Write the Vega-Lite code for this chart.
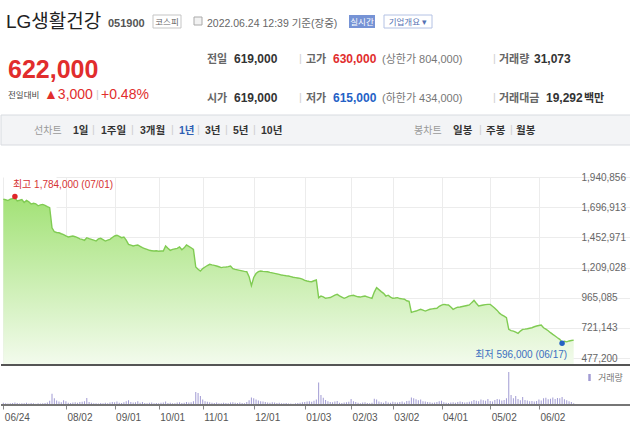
{
"$schema":"https://vega.github.io/schema/vega-lite/v6.json",
"padding":0,
"background":"white",
"bounds":"flush",
"spacing":0,
"resolve":{"scale":{"color":"independent"},"legend":{"color":"independent"}},
"config":{
 "font":"Liberation Sans, Noto Sans CJK KR, sans-serif",
 "view":{"stroke":null},
 "axis":{"labelOverlap":false},
 "axisY":{"labelOverlap":false},
 "axisQuantitative":{"labelOverlap":false},
 "text":{"align":"left","baseline":"alphabetic"}
},
"datasets":{
"px":[
{"d":"2021-06-24","c":1762000,"v":18000},{"d":"2021-06-25","c":1757000,"v":15000},{"d":"2021-06-28","c":1750000,"v":12000},{"d":"2021-06-29","c":1761000,"v":14000},{"d":"2021-06-30","c":1766000,"v":16000},
{"d":"2021-07-01","c":1770000,"v":20000},{"d":"2021-07-02","c":1748000,"v":17000},{"d":"2021-07-05","c":1753000,"v":13000},{"d":"2021-07-06","c":1759000,"v":15000},{"d":"2021-07-07","c":1735000,"v":14000},
{"d":"2021-07-08","c":1751000,"v":18000},{"d":"2021-07-09","c":1740000,"v":12000},{"d":"2021-07-12","c":1722000,"v":16000},{"d":"2021-07-13","c":1728000,"v":14000},{"d":"2021-07-14","c":1724000,"v":11000},
{"d":"2021-07-15","c":1708000,"v":15000},{"d":"2021-07-16","c":1715000,"v":13000},{"d":"2021-07-19","c":1719000,"v":14000},{"d":"2021-07-20","c":1712000,"v":16000},{"d":"2021-07-21","c":1701000,"v":21000},
{"d":"2021-07-22","c":1693000,"v":35000},{"d":"2021-07-23","c":1530000,"v":92000},{"d":"2021-07-26","c":1498000,"v":55000},{"d":"2021-07-27","c":1492000,"v":38000},{"d":"2021-07-28","c":1490000,"v":28000},
{"d":"2021-07-29","c":1482000,"v":22000},{"d":"2021-07-30","c":1475000,"v":40000},{"d":"2021-08-02","c":1464000,"v":30000},{"d":"2021-08-03","c":1456000,"v":18000},{"d":"2021-08-04","c":1460000,"v":16000},
{"d":"2021-08-05","c":1464000,"v":20000},{"d":"2021-08-06","c":1458000,"v":22000},{"d":"2021-08-09","c":1450000,"v":18000},{"d":"2021-08-10","c":1440000,"v":24000},{"d":"2021-08-11","c":1437000,"v":26000},
{"d":"2021-08-12","c":1429000,"v":30000},{"d":"2021-08-13","c":1450000,"v":58000},{"d":"2021-08-17","c":1443000,"v":25000},{"d":"2021-08-18","c":1437000,"v":18000},{"d":"2021-08-19","c":1430000,"v":15000},
{"d":"2021-08-20","c":1423000,"v":14000},{"d":"2021-08-23","c":1440000,"v":12000},{"d":"2021-08-24","c":1445000,"v":16000},{"d":"2021-08-25","c":1434000,"v":15000},{"d":"2021-08-26","c":1423000,"v":18000},
{"d":"2021-08-27","c":1430000,"v":14000},{"d":"2021-08-30","c":1437000,"v":20000},{"d":"2021-08-31","c":1452000,"v":24000},{"d":"2021-09-01","c":1464000,"v":22000},{"d":"2021-09-02","c":1470000,"v":28000},
{"d":"2021-09-03","c":1461000,"v":18000},{"d":"2021-09-06","c":1450000,"v":16000},{"d":"2021-09-07","c":1456000,"v":22000},{"d":"2021-09-08","c":1430000,"v":30000},{"d":"2021-09-09","c":1396000,"v":40000},
{"d":"2021-09-10","c":1390000,"v":25000},{"d":"2021-09-13","c":1383000,"v":20000},{"d":"2021-09-14","c":1388000,"v":22000},{"d":"2021-09-15","c":1391000,"v":30000},{"d":"2021-09-16","c":1380000,"v":18000},
{"d":"2021-09-17","c":1369000,"v":25000},{"d":"2021-09-23","c":1362000,"v":16000},{"d":"2021-09-24","c":1355000,"v":14000},{"d":"2021-09-27","c":1348000,"v":18000},{"d":"2021-09-28","c":1345000,"v":20000},
{"d":"2021-09-29","c":1342000,"v":15000},{"d":"2021-09-30","c":1344000,"v":16000},{"d":"2021-10-01","c":1340000,"v":14000},{"d":"2021-10-05","c":1342000,"v":18000},{"d":"2021-10-06","c":1342000,"v":20000},
{"d":"2021-10-07","c":1383000,"v":28000},{"d":"2021-10-08","c":1365000,"v":16000},{"d":"2021-10-12","c":1348000,"v":18000},{"d":"2021-10-13","c":1356000,"v":14000},{"d":"2021-10-14","c":1360000,"v":15000},
{"d":"2021-10-15","c":1364000,"v":20000},{"d":"2021-10-18","c":1375000,"v":22000},{"d":"2021-10-19","c":1353000,"v":16000},{"d":"2021-10-20","c":1368000,"v":18000},{"d":"2021-10-21","c":1391000,"v":25000},
{"d":"2021-10-22","c":1380000,"v":20000},{"d":"2021-10-25","c":1369000,"v":22000},{"d":"2021-10-26","c":1356000,"v":30000},{"d":"2021-10-27","c":1213000,"v":108000},{"d":"2021-10-28","c":1195000,"v":98000},
{"d":"2021-10-29","c":1181000,"v":75000},{"d":"2021-11-01","c":1200000,"v":45000},{"d":"2021-11-02","c":1213000,"v":30000},{"d":"2021-11-03","c":1225000,"v":26000},{"d":"2021-11-04","c":1235000,"v":22000},
{"d":"2021-11-05","c":1230000,"v":18000},{"d":"2021-11-08","c":1226000,"v":16000},{"d":"2021-11-09","c":1221000,"v":20000},{"d":"2021-11-10","c":1215000,"v":15000},{"d":"2021-11-11","c":1208000,"v":14000},
{"d":"2021-11-12","c":1212000,"v":18000},{"d":"2021-11-15","c":1213000,"v":16000},{"d":"2021-11-16","c":1216000,"v":15000},{"d":"2021-11-17","c":1221000,"v":20000},{"d":"2021-11-18","c":1200000,"v":22000},
{"d":"2021-11-19","c":1194000,"v":18000},{"d":"2021-11-22","c":1190000,"v":16000},{"d":"2021-11-23","c":1186000,"v":20000},{"d":"2021-11-24","c":1182000,"v":17000},{"d":"2021-11-25","c":1178000,"v":15000},
{"d":"2021-11-26","c":1175000,"v":24000},{"d":"2021-11-29","c":1135000,"v":40000},{"d":"2021-11-30","c":1062000,"v":62000},{"d":"2021-12-01","c":1128000,"v":55000},{"d":"2021-12-02","c":1160000,"v":45000},
{"d":"2021-12-03","c":1175000,"v":38000},{"d":"2021-12-06","c":1181000,"v":30000},{"d":"2021-12-07","c":1178000,"v":28000},{"d":"2021-12-08","c":1176000,"v":25000},{"d":"2021-12-09","c":1175000,"v":20000},
{"d":"2021-12-10","c":1170000,"v":18000},{"d":"2021-12-13","c":1166000,"v":22000},{"d":"2021-12-14","c":1162000,"v":20000},{"d":"2021-12-15","c":1158000,"v":16000},{"d":"2021-12-16","c":1154000,"v":18000},
{"d":"2021-12-17","c":1148000,"v":15000},{"d":"2021-12-20","c":1145000,"v":14000},{"d":"2021-12-21","c":1142000,"v":16000},{"d":"2021-12-22","c":1140000,"v":13000},{"d":"2021-12-23","c":1135000,"v":12000},
{"d":"2021-12-24","c":1130000,"v":10000},{"d":"2021-12-27","c":1127000,"v":14000},{"d":"2021-12-28","c":1124000,"v":16000},{"d":"2021-12-29","c":1121000,"v":18000},{"d":"2021-12-30","c":1115000,"v":22000},
{"d":"2022-01-03","c":1105000,"v":25000},{"d":"2022-01-04","c":1100000,"v":28000},{"d":"2022-01-05","c":1096000,"v":30000},{"d":"2022-01-06","c":1094000,"v":26000},{"d":"2022-01-07","c":1102000,"v":35000},
{"d":"2022-01-10","c":1108000,"v":45000},{"d":"2022-01-11","c":965000,"v":185000},{"d":"2022-01-12","c":978000,"v":82000},{"d":"2022-01-13","c":972000,"v":60000},{"d":"2022-01-14","c":960000,"v":42000},
{"d":"2022-01-17","c":963000,"v":30000},{"d":"2022-01-18","c":966000,"v":25000},{"d":"2022-01-19","c":975000,"v":22000},{"d":"2022-01-20","c":985000,"v":28000},{"d":"2022-01-21","c":992000,"v":32000},
{"d":"2022-01-24","c":980000,"v":18000},{"d":"2022-01-25","c":970000,"v":16000},{"d":"2022-01-26","c":960000,"v":20000},{"d":"2022-01-27","c":968000,"v":22000},{"d":"2022-01-28","c":978000,"v":26000},
{"d":"2022-02-03","c":982000,"v":50000},{"d":"2022-02-04","c":984000,"v":30000},{"d":"2022-02-07","c":978000,"v":24000},{"d":"2022-02-08","c":972000,"v":18000},{"d":"2022-02-09","c":970000,"v":15000},
{"d":"2022-02-10","c":975000,"v":20000},{"d":"2022-02-11","c":978000,"v":22000},{"d":"2022-02-14","c":972000,"v":16000},{"d":"2022-02-15","c":965000,"v":14000},{"d":"2022-02-16","c":960000,"v":18000},
{"d":"2022-02-17","c":1010000,"v":52000},{"d":"2022-02-18","c":1046000,"v":45000},{"d":"2022-02-21","c":1030000,"v":28000},{"d":"2022-02-22","c":1014000,"v":22000},{"d":"2022-02-23","c":1000000,"v":18000},
{"d":"2022-02-24","c":978000,"v":30000},{"d":"2022-02-25","c":985000,"v":20000},{"d":"2022-02-28","c":970000,"v":18000},{"d":"2022-03-02","c":960000,"v":26000},{"d":"2022-03-03","c":962000,"v":22000},
{"d":"2022-03-04","c":965000,"v":20000},{"d":"2022-03-07","c":958000,"v":24000},{"d":"2022-03-08","c":955000,"v":28000},{"d":"2022-03-10","c":952000,"v":20000},{"d":"2022-03-11","c":940000,"v":32000},
{"d":"2022-03-14","c":935000,"v":35000},{"d":"2022-03-15","c":846000,"v":62000},{"d":"2022-03-16","c":852000,"v":55000},{"d":"2022-03-17","c":857000,"v":48000},{"d":"2022-03-18","c":865000,"v":40000},
{"d":"2022-03-21","c":871000,"v":45000},{"d":"2022-03-22","c":864000,"v":30000},{"d":"2022-03-23","c":857000,"v":28000},{"d":"2022-03-24","c":865000,"v":25000},{"d":"2022-03-25","c":871000,"v":22000},
{"d":"2022-03-28","c":874000,"v":18000},{"d":"2022-03-29","c":877000,"v":20000},{"d":"2022-03-30","c":879000,"v":25000},{"d":"2022-03-31","c":895000,"v":30000},{"d":"2022-04-01","c":905000,"v":35000},
{"d":"2022-04-04","c":911000,"v":22000},{"d":"2022-04-05","c":908000,"v":18000},{"d":"2022-04-06","c":906000,"v":16000},{"d":"2022-04-07","c":890000,"v":20000},{"d":"2022-04-08","c":871000,"v":22000},
{"d":"2022-04-11","c":880000,"v":18000},{"d":"2022-04-12","c":888000,"v":25000},{"d":"2022-04-13","c":890000,"v":28000},{"d":"2022-04-14","c":894000,"v":24000},{"d":"2022-04-15","c":898000,"v":20000},
{"d":"2022-04-18","c":902000,"v":22000},{"d":"2022-04-19","c":906000,"v":26000},{"d":"2022-04-20","c":925000,"v":30000},{"d":"2022-04-21","c":943000,"v":42000},{"d":"2022-04-22","c":920000,"v":35000},
{"d":"2022-04-25","c":898000,"v":30000},{"d":"2022-04-26","c":902000,"v":45000},{"d":"2022-04-27","c":906000,"v":40000},{"d":"2022-04-28","c":909000,"v":35000},{"d":"2022-04-29","c":911000,"v":50000},
{"d":"2022-05-02","c":911000,"v":32000},{"d":"2022-05-03","c":895000,"v":28000},{"d":"2022-05-04","c":880000,"v":42000},{"d":"2022-05-06","c":862000,"v":50000},{"d":"2022-05-09","c":840000,"v":45000},
{"d":"2022-05-10","c":825000,"v":38000},{"d":"2022-05-11","c":815000,"v":42000},{"d":"2022-05-12","c":803000,"v":55000},{"d":"2022-05-13","c":709000,"v":272000},{"d":"2022-05-16","c":698000,"v":82000},
{"d":"2022-05-17","c":695000,"v":55000},{"d":"2022-05-18","c":686000,"v":75000},{"d":"2022-05-19","c":677000,"v":50000},{"d":"2022-05-20","c":695000,"v":40000},{"d":"2022-05-23","c":709000,"v":65000},
{"d":"2022-05-24","c":711000,"v":42000},{"d":"2022-05-25","c":714000,"v":38000},{"d":"2022-05-26","c":718000,"v":30000},{"d":"2022-05-27","c":722000,"v":34000},{"d":"2022-05-30","c":730000,"v":28000},
{"d":"2022-05-31","c":736000,"v":32000},{"d":"2022-06-02","c":740000,"v":45000},{"d":"2022-06-03","c":744000,"v":38000},{"d":"2022-06-07","c":722000,"v":55000},{"d":"2022-06-08","c":710000,"v":60000},
{"d":"2022-06-09","c":698000,"v":48000},{"d":"2022-06-10","c":682000,"v":52000},{"d":"2022-06-13","c":668000,"v":62000},{"d":"2022-06-14","c":655000,"v":50000},{"d":"2022-06-15","c":641000,"v":58000},
{"d":"2022-06-16","c":628000,"v":55000},{"d":"2022-06-17","c":605000,"v":65000},{"d":"2022-06-20","c":612000,"v":48000},{"d":"2022-06-21","c":608000,"v":40000},{"d":"2022-06-22","c":615000,"v":30000},
{"d":"2022-06-23","c":619000,"v":25000},{"d":"2022-06-24","c":622000,"v":14000}
]
},
"vconcat":[
{
 "width":630,"height":176,
 "data":{"values":[{}]},
 "layer":[
  {"mark":{"type":"rect","x":0,"x2":630,"y":114,"y2":144,"fill":"#f3f4f6","stroke":"#d8dbe0","strokeWidth":1}},
  {"mark":{"type":"rule","x":0,"x2":630,"y":37,"y2":37,"stroke":"#555555","strokeWidth":2.5},"encoding":{}},
  {"mark":{"type":"rule","x":189.5,"x2":189.5,"y":38,"y2":114,"stroke":"#dddddd","strokeWidth":1},"encoding":{}},
  {"mark":{"type":"rule","x":190,"x2":630,"y":76.5,"y2":76.5,"stroke":"#e6e6e6","strokeWidth":1},"encoding":{}},
  {"mark":{"type":"rect","x":152,"x2":180,"y":14,"y2":27,"fill":"white","stroke":"#c5c5c5","strokeWidth":1}},
  {"mark":{"type":"rect","x":193,"x2":201,"y":16,"y2":24,"fill":"#f2f2f2","stroke":"#aaaaaa","strokeWidth":1}},
  {"mark":{"type":"rect","x":348,"x2":374,"y":14,"y2":27,"fill":"#7693d5"}},
  {"mark":{"type":"rect","x":383,"x2":431,"y":14,"y2":27,"fill":"white","stroke":"#b4c2e4","strokeWidth":1}},
  {"data":{"values":[{"t":"LG생활건강"}]},"mark":{"type":"text","x":5,"y":27,"fontSize":19,"fill":"#222222"},"encoding":{"text":{"field":"t"}}},
  {"data":{"values":[{"t":"051900"}]},"mark":{"type":"text","x":107,"y":26,"fontSize":11,"fontWeight":"bold","fill":"#555555"},"encoding":{"text":{"field":"t"}}},
  {"data":{"values":[{"t":"코스피"}]},"mark":{"type":"text","x":166,"y":24,"align":"center","fontSize":8.5,"fill":"#666666"},"encoding":{"text":{"field":"t"}}},
  {"data":{"values":[{"t":"2022.06.24 12:39 기준(장중)"}]},"mark":{"type":"text","x":206,"y":26,"fontSize":10.5,"fill":"#666666"},"encoding":{"text":{"field":"t"}}},
  {"data":{"values":[{"t":"실시간"}]},"mark":{"type":"text","x":361,"y":24,"align":"center","fontSize":8.5,"fill":"white"},"encoding":{"text":{"field":"t"}}},
  {"data":{"values":[{"t":"기업개요 ▾"}]},"mark":{"type":"text","x":407,"y":24,"align":"center","fontSize":8.5,"fill":"#5572b3"},"encoding":{"text":{"field":"t"}}},
  {"data":{"values":[{"t":"622,000"}]},"mark":{"type":"text","x":7,"y":77,"fontSize":25,"fontWeight":"bold","fill":"#e12d2d"},"encoding":{"text":{"field":"t"}}},
  {"data":{"values":[{"t":"전일대비"}]},"mark":{"type":"text","x":7,"y":97,"fontSize":8.5,"fill":"#444444"},"encoding":{"text":{"field":"t"}}},
  {"data":{"values":[{"t":"▲3,000"}]},"mark":{"type":"text","x":43,"y":98,"fontSize":14,"fill":"#e12d2d"},"encoding":{"text":{"field":"t"}}},
  {"data":{"values":[{"t":"|"}]},"mark":{"type":"text","x":95,"y":97,"fontSize":11,"fill":"#d0d0d0"},"encoding":{"text":{"field":"t"}}},
  {"data":{"values":[{"t":"+0.48%"}]},"mark":{"type":"text","x":100,"y":98,"fontSize":14,"fill":"#e12d2d"},"encoding":{"text":{"field":"t"}}},
  {"data":{"values":[{"t":"전일"}]},"mark":{"type":"text","x":206,"y":62,"fontSize":11,"fontWeight":"bold","fill":"#666666"},"encoding":{"text":{"field":"t"}}},
  {"data":{"values":[{"t":"619,000"}]},"mark":{"type":"text","x":233,"y":62,"fontSize":12,"fontWeight":"bold","fill":"#333333"},"encoding":{"text":{"field":"t"}}},
  {"data":{"values":[{"t":"|"}]},"mark":{"type":"text","x":298,"y":61,"fontSize":11,"fill":"#d0d0d0"},"encoding":{"text":{"field":"t"}}},
  {"data":{"values":[{"t":"고가"}]},"mark":{"type":"text","x":305,"y":62,"fontSize":11,"fontWeight":"bold","fill":"#666666"},"encoding":{"text":{"field":"t"}}},
  {"data":{"values":[{"t":"630,000"}]},"mark":{"type":"text","x":332,"y":62,"fontSize":12,"fontWeight":"bold","fill":"#e12d2d"},"encoding":{"text":{"field":"t"}}},
  {"data":{"values":[{"t":"(상한가 804,000)"}]},"mark":{"type":"text","x":381,"y":62,"fontSize":11,"fill":"#777777"},"encoding":{"text":{"field":"t"}}},
  {"data":{"values":[{"t":"|"}]},"mark":{"type":"text","x":492,"y":61,"fontSize":11,"fill":"#d0d0d0"},"encoding":{"text":{"field":"t"}}},
  {"data":{"values":[{"t":"거래량"}]},"mark":{"type":"text","x":498,"y":62,"fontSize":11,"fontWeight":"bold","fill":"#666666"},"encoding":{"text":{"field":"t"}}},
  {"data":{"values":[{"t":"31,073"}]},"mark":{"type":"text","x":533,"y":62,"fontSize":12,"fontWeight":"bold","fill":"#333333"},"encoding":{"text":{"field":"t"}}},
  {"data":{"values":[{"t":"시가"}]},"mark":{"type":"text","x":206,"y":101,"fontSize":11,"fontWeight":"bold","fill":"#666666"},"encoding":{"text":{"field":"t"}}},
  {"data":{"values":[{"t":"619,000"}]},"mark":{"type":"text","x":233,"y":101,"fontSize":12,"fontWeight":"bold","fill":"#333333"},"encoding":{"text":{"field":"t"}}},
  {"data":{"values":[{"t":"|"}]},"mark":{"type":"text","x":298,"y":100,"fontSize":11,"fill":"#d0d0d0"},"encoding":{"text":{"field":"t"}}},
  {"data":{"values":[{"t":"저가"}]},"mark":{"type":"text","x":305,"y":101,"fontSize":11,"fontWeight":"bold","fill":"#666666"},"encoding":{"text":{"field":"t"}}},
  {"data":{"values":[{"t":"615,000"}]},"mark":{"type":"text","x":332,"y":101,"fontSize":12,"fontWeight":"bold","fill":"#2461c6"},"encoding":{"text":{"field":"t"}}},
  {"data":{"values":[{"t":"(하한가 434,000)"}]},"mark":{"type":"text","x":381,"y":101,"fontSize":11,"fill":"#777777"},"encoding":{"text":{"field":"t"}}},
  {"data":{"values":[{"t":"|"}]},"mark":{"type":"text","x":492,"y":100,"fontSize":11,"fill":"#d0d0d0"},"encoding":{"text":{"field":"t"}}},
  {"data":{"values":[{"t":"거래대금"}]},"mark":{"type":"text","x":498,"y":101,"fontSize":11,"fontWeight":"bold","fill":"#666666"},"encoding":{"text":{"field":"t"}}},
  {"data":{"values":[{"t":"19,292"}]},"mark":{"type":"text","x":545,"y":101,"fontSize":12,"fontWeight":"bold","fill":"#333333"},"encoding":{"text":{"field":"t"}}},
  {"data":{"values":[{"t":"백만"}]},"mark":{"type":"text","x":583,"y":101,"fontSize":11,"fontWeight":"bold","fill":"#333333"},"encoding":{"text":{"field":"t"}}},
  {"data":{"values":[{"t":"선차트"}]},"mark":{"type":"text","x":33,"y":133,"fontSize":10,"fill":"#999999"},"encoding":{"text":{"field":"t"}}},
  {"data":{"values":[{"t":"1일"}]},"mark":{"type":"text","x":72,"y":133,"fontSize":10.5,"fontWeight":"bold","fill":"#333333"},"encoding":{"text":{"field":"t"}}},
  {"data":{"values":[{"t":"|"}]},"mark":{"type":"text","x":91,"y":132,"fontSize":11,"fill":"#d0d0d0"},"encoding":{"text":{"field":"t"}}},
  {"data":{"values":[{"t":"1주일"}]},"mark":{"type":"text","x":100,"y":133,"fontSize":10.5,"fontWeight":"bold","fill":"#333333"},"encoding":{"text":{"field":"t"}}},
  {"data":{"values":[{"t":"|"}]},"mark":{"type":"text","x":130,"y":132,"fontSize":11,"fill":"#d0d0d0"},"encoding":{"text":{"field":"t"}}},
  {"data":{"values":[{"t":"3개월"}]},"mark":{"type":"text","x":139,"y":133,"fontSize":10.5,"fontWeight":"bold","fill":"#333333"},"encoding":{"text":{"field":"t"}}},
  {"data":{"values":[{"t":"|"}]},"mark":{"type":"text","x":170,"y":132,"fontSize":11,"fill":"#d0d0d0"},"encoding":{"text":{"field":"t"}}},
  {"data":{"values":[{"t":"1년"}]},"mark":{"type":"text","x":178,"y":133,"fontSize":10.5,"fontWeight":"bold","fill":"#2f5fb3"},"encoding":{"text":{"field":"t"}}},
  {"data":{"values":[{"t":"|"}]},"mark":{"type":"text","x":196,"y":132,"fontSize":11,"fill":"#d0d0d0"},"encoding":{"text":{"field":"t"}}},
  {"data":{"values":[{"t":"3년"}]},"mark":{"type":"text","x":204,"y":133,"fontSize":10.5,"fontWeight":"bold","fill":"#333333"},"encoding":{"text":{"field":"t"}}},
  {"data":{"values":[{"t":"|"}]},"mark":{"type":"text","x":224,"y":132,"fontSize":11,"fill":"#d0d0d0"},"encoding":{"text":{"field":"t"}}},
  {"data":{"values":[{"t":"5년"}]},"mark":{"type":"text","x":232,"y":133,"fontSize":10.5,"fontWeight":"bold","fill":"#333333"},"encoding":{"text":{"field":"t"}}},
  {"data":{"values":[{"t":"|"}]},"mark":{"type":"text","x":252,"y":132,"fontSize":11,"fill":"#d0d0d0"},"encoding":{"text":{"field":"t"}}},
  {"data":{"values":[{"t":"10년"}]},"mark":{"type":"text","x":260,"y":133,"fontSize":10.5,"fontWeight":"bold","fill":"#333333"},"encoding":{"text":{"field":"t"}}},
  {"data":{"values":[{"t":"봉차트"}]},"mark":{"type":"text","x":413,"y":133,"fontSize":10,"fill":"#999999"},"encoding":{"text":{"field":"t"}}},
  {"data":{"values":[{"t":"일봉"}]},"mark":{"type":"text","x":452,"y":133,"fontSize":10.5,"fontWeight":"bold","fill":"#333333"},"encoding":{"text":{"field":"t"}}},
  {"data":{"values":[{"t":"|"}]},"mark":{"type":"text","x":478,"y":132,"fontSize":11,"fill":"#d0d0d0"},"encoding":{"text":{"field":"t"}}},
  {"data":{"values":[{"t":"주봉"}]},"mark":{"type":"text","x":485,"y":133,"fontSize":10.5,"fontWeight":"bold","fill":"#333333"},"encoding":{"text":{"field":"t"}}},
  {"data":{"values":[{"t":"|"}]},"mark":{"type":"text","x":509,"y":132,"fontSize":11,"fill":"#d0d0d0"},"encoding":{"text":{"field":"t"}}},
  {"data":{"values":[{"t":"월봉"}]},"mark":{"type":"text","x":515,"y":133,"fontSize":10.5,"fontWeight":"bold","fill":"#333333"},"encoding":{"text":{"field":"t"}}}
 ]
},
{
 "width":630,"height":188,
 "data":{"name":"px"},
 "encoding":{
  "x":{"field":"d","type":"ordinal","scale":{"type":"point","range":[0,575],"padding":1.5},
   "axis":{"values":["2021-06-24","2021-08-02","2021-09-01","2021-10-01","2021-11-01","2021-12-01","2022-01-03","2022-02-03","2022-03-02","2022-04-01","2022-05-02","2022-06-02"],"labels":false,"ticks":false,"domain":false,"grid":true,"gridColor":"#ececec","title":null}},
  "y":{"field":"c","type":"quantitative","scale":{"domain":[420600,1940856],"zero":false,"nice":false},
     "axis":{"orient":"right","offset":-55,"values":[477200,721143,965085,1209028,1452971,1696913,1940856],"format":",d","labelOverlap":false,"labelBound":false,"labelColor":"#666666","labelFontSize":10,"labelPadding":5,"ticks":false,"domain":false,"grid":true,"gridColor":"#ececec","title":null}}
 },
 "layer":[
  {"mark":{"type":"area","clip":true,"fill":{"gradient":"linear","x1":0,"y1":0,"x2":0,"y2":1,"stops":[{"offset":0,"color":"#a3e277"},{"offset":1,"color":"#f3fbed"}]}},
   "encoding":{"y2":{"datum":420600}}},
  {"mark":{"type":"line","stroke":"#80cb53","strokeWidth":1.4}},
  {"mark":{"type":"rule","stroke":"#555555","strokeWidth":2},"encoding":{"y":{"datum":420600},"x":null}},
  {"data":{"values":[{"d":"2021-07-01","c":1784000,"t":"최고 1,784,000 (07/01)"}]},"mark":{"type":"point","filled":true,"size":30,"color":"#e0262a","opacity":1}},
  {"data":{"values":[{"d":"2021-07-01","c":1784000,"t":"최고 1,784,000 (07/01)"}]},"mark":{"type":"text","align":"left","baseline":"alphabetic","dx":-2,"dy":-8,"fontSize":10,"fill":"#d63333"},"encoding":{"text":{"field":"t"}}},
  {"data":{"values":[{"d":"2022-06-17","c":596000,"t":"최저 596,000 (06/17)"}]},"mark":{"type":"point","filled":true,"size":30,"color":"#2462c4","opacity":1}},
  {"data":{"values":[{"d":"2022-06-17","c":596000,"t":"최저 596,000 (06/17)"}]},"mark":{"type":"text","align":"right","baseline":"alphabetic","dx":5,"dy":15,"fontSize":10,"fill":"#3b6fc0"},"encoding":{"text":{"field":"t"}}}
 ]
},
{
 "width":630,"height":40,
 "data":{"name":"px"},
 "layer":[
  {"mark":{"type":"bar","size":1},
   "encoding":{
    "x":{"field":"d","type":"ordinal","scale":{"type":"point","range":[0,575],"padding":1.5},
     "axis":{"values":["2021-06-24","2021-08-02","2021-09-01","2021-10-01","2021-11-01","2021-12-01","2022-01-03","2022-02-03","2022-03-02","2022-04-01","2022-05-02","2022-06-02"],
      "labelExpr":"substring(datum.value, 5, 7) + '/' + substring(datum.value, 8, 10)","labelAngle":0,"labelAlign":"left","labelBaseline":"top","labelOffset":1,"labelPadding":3,"labelColor":"#555555","labelFontSize":10,"labelOverlap":false,"tickSize":4,"tickColor":"#888888","domain":false,"grid":false,"title":null}},
    "y":{"field":"v","type":"quantitative","scale":{"domain":[0,330000],"nice":false},"axis":null},
    "color":{"datum":"거래량","type":"nominal","scale":{"range":["#a19bd3"]},
     "legend":{"title":null,"orient":"top-right","offset":8,"symbolType":"M-0.35,-1H0.35V1H-0.35Z","symbolSize":50,"labelFontSize":9,"labelColor":"#777777","padding":0}}}},
  {"mark":{"type":"rule","stroke":"#777777","strokeWidth":1},"encoding":{"y":{"datum":0}}}
 ]
}
]
}
